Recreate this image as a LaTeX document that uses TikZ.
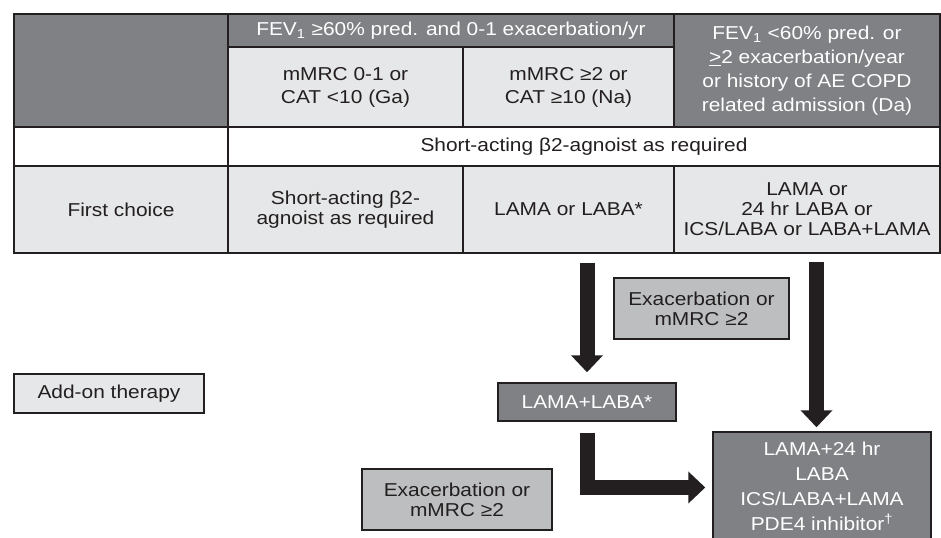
\documentclass[tikz,border=0pt]{standalone}
\usepackage{fontspec}
\setmainfont[FakeStretch=1.12]{Liberation Sans}
\usetikzlibrary{arrows.meta}
\definecolor{dk}{RGB}{128,129,133}
\definecolor{lt}{RGB}{230,231,232}
\definecolor{md}{RGB}{188,190,192}
\definecolor{ink}{RGB}{35,31,32}
\begin{document}
\begin{tikzpicture}[x=0.75pt,y=-0.75pt,
  sz/.style 2 args={minimum width=#1*0.75pt, minimum height=#2*0.75pt},
  cell/.style={draw=ink, line width=1.1pt, inner sep=0pt, align=center, text=ink, font=\fontsize{14}{15}\selectfont},
  dcell/.style={cell, fill=dk, text=white},
  lcell/.style={cell, fill=lt},
  wcell/.style={cell, fill=white},
  mcell/.style={cell, fill=md},
  blk/.style={draw=ink, line width=11.25pt, line join=miter, -{Triangle[length=12.75pt, width=23.25pt]}},
]
\useasboundingbox (0,0) rectangle (941,538);
% header
\node[dcell, sz={214}{113}] (hcorner) at (121,70.5) {};
\node[dcell, sz={446}{33}] (hband) at (451,30.5) {FEV\textsubscript{1} ≥60\% pred. and 0-1 exacerbation/yr};
\node[lcell, sz={235}{80}, font=\fontsize{14}{17.25}\selectfont] (hga) at (345.5,87) {mMRC 0-1 or\\CAT <10 (Ga)};
\node[lcell, sz={211}{80}, font=\fontsize{14}{17.25}\selectfont] (hna) at (568.5,87) {mMRC ≥2 or\\CAT ≥10 (Na)};
\node[dcell, sz={266}{113}, font=\fontsize{14}{18}\selectfont] (hda) at (807,70.5) {FEV\textsubscript{1} <60\% pred. or\\\underline{>}2 exacerbation/year\\or history of AE COPD\\related admission (Da)};
% row 2
\node[wcell, sz={214}{39}] (r2l) at (121,146.5) {};
\node[wcell, sz={712}{39}] (r2r) at (584,146.5) {Short-acting β2-agnoist as required};
% row 3
\node[lcell, sz={214}{87}] (fc) at (121,209.5) {First choice};
\node[lcell, sz={235}{87}] (fc1) at (345.5,209.5) {Short-acting β2-\\agnoist as required};
\node[lcell, sz={211}{87}] (fc2) at (568.5,209.5) {LAMA or LABA*};
\node[lcell, sz={266}{87}] (fc3) at (807,209.5) {LAMA or\\24 hr LABA or\\ICS/LABA or LABA+LAMA};
% lower boxes
\node[lcell, sz={190}{39}] (addon) at (109,393.5) {Add-on therapy};
\node[mcell, sz={175}{61}] (ex1) at (701.5,308.5) {Exacerbation or\\mMRC ≥2};
\node[mcell, sz={190}{61}] (ex2) at (457,499.5) {Exacerbation or\\mMRC ≥2};
\node[dcell, sz={178}{38}] (ll) at (587,402) {LAMA+LABA*};
\node[dcell, sz={218}{108}, font=\fontsize{14}{18.75}\selectfont] (fin) at (822,486) {LAMA+24 hr\\LABA\\ICS/LABA+LAMA\\PDE4 inhibitor\textsuperscript{†}};
% arrows
\coordinate (a2) at (816.5,0);
\draw[blk, shorten <=6.75pt, shorten >=7.5pt] (fc2.south -| ll.north) -- (ll.north);
\draw[blk, shorten <=6pt, shorten >=3pt] (fc3.south -| a2) -- (fin.north -| a2);
\draw[blk, shorten <=8.25pt, shorten >=5.25pt] (ll.south) |- ([yshift=-1.125pt]fin.west);
\end{tikzpicture}
\end{document}
